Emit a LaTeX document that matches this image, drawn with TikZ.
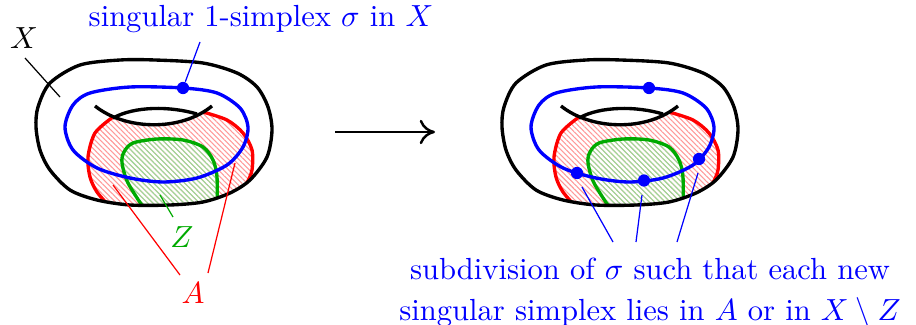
\documentclass[tikz,border=0pt]{standalone}
\usepackage{tikz}
\usetikzlibrary{patterns.meta,arrows.meta}
\definecolor{tsBlue}{RGB}{0,0,255}
\definecolor{tsRed}{RGB}{255,0,0}
\definecolor{tsGreen}{RGB}{0,170,0}
\tikzset{
    torusline/.style={line width=1.1pt, black},
    sigmaline/.style={line width=1.1pt, tsBlue},
    boundary/.style={line width=1.1pt, color=#1},
    hatchfill/.style={pattern={Lines[angle=-45,distance=1.2pt,line width=0.35pt]}, pattern color=#1},
    leaderline/.style={line width=0.4pt, color=#1},
    sdot/.style={circle, fill=tsBlue, inner sep=0pt, minimum size=4pt},
    flow/.style={-{To[length=5pt,width=8pt]}, thick},
    label/.style={inner sep=0pt, anchor=base}
}

\begin{document}
\begin{tikzpicture}[x=0.0115cm, y=-0.0115cm]
  \useasboundingbox (0,0) rectangle (916,325);

  % the two tori with A and Z
  \foreach \sx in {0,466}{
    \begin{scope}[shift={(\sx,0)}]
      \begin{scope}
        \clip plot[smooth cycle] coordinates {(155,60) (203,63) (237,73) (257,87) (268,107) (272,130) (267,157) (250,180) (230,193) (203,202) (170,205) (130,205) (97,200) (70,190) (50,170) (40,150) (36,127) (38,107) (50,83) (80,65) (120,60)};
        % A
        \fill[hatchfill=tsRed!40] plot[smooth] coordinates {(113,117) (95,133) (88,157) (90,177) (97,192) (110,207)}
          -- (110,215) -- (250,215)
          -- plot[smooth] coordinates {(240,195) (247,183) (252,170) (252,150) (243,133) (227,120) (203,112)}
          .. controls (180,125) and (140,128) .. (113,117) -- cycle;
        \draw[boundary=tsRed] plot[smooth] coordinates {(113,117) (95,133) (88,157) (90,177) (97,192) (110,207)};
        \draw[boundary=tsRed] plot[smooth] coordinates {(203,112) (227,120) (243,133) (252,150) (252,170) (247,183) (240,195)};
        % Z
        \fill[hatchfill=tsGreen!40] plot[smooth] coordinates {(145,210) (128,183) (122,163) (124,152) (133,143) (157,139) (183,140) (203,147) (213,160) (217,177) (217,210)} -- cycle;
        \draw[boundary=tsGreen] plot[smooth] coordinates {(145,210) (128,183) (122,163) (124,152) (133,143) (157,139) (183,140) (203,147) (213,160) (217,177) (217,210)};
      \end{scope}
      % X
      \draw[torusline] plot[smooth cycle] coordinates {(155,60) (203,63) (237,73) (257,87) (268,107) (272,130) (267,157) (250,180) (230,193) (203,202) (170,205) (130,205) (97,200) (70,190) (50,170) (40,150) (36,127) (38,107) (50,83) (80,65) (120,60)};
      \draw[torusline] (95,106) .. controls (125,130) and (180,132) .. (212,106);
      \draw[torusline] (113,118) .. controls (135,106) and (170,106) .. (197,114);
      % sigma
      \draw[sigmaline] plot[smooth cycle] coordinates {(183,88) (217,93) (240,108) (248,127) (243,147) (227,165) (197,178) (163,182) (130,178) (97,168) (73,150) (65,127) (73,105) (90,93) (130,87)};
    \end{scope}
  }

  % points of sigma
  \node[sdot] (sig) at (183,88) {};
  \node[sdot] (sub0) at (649,88) {};
  \node[sdot] (sub1) at (577,173) {};
  \node[sdot] (sub2) at (644,180.5) {};
  \node[sdot] (sub3) at (699,159) {};

  % labels
  \node[label, text=tsBlue] (lblSigma) at (261,26.5) {singular 1-simplex $\sigma$ in $X$};
  \node[label] (lblX) at (24,48) {$X$};
  \node[label, text=tsGreen] (lblZ) at (182,247) {$Z$};
  \node[label, text=tsRed] (lblA) at (193,303) {$A$};
  \node[text=tsBlue, align=center, inner sep=0pt] (lblSub) at (650,293)
    {subdivision of $\sigma$ such that each new\\[1.4pt]
     singular simplex lies in $A$ or in $X\setminus Z$};

  % leader lines
  \coordinate (xtail) at (25,58);
  \coordinate (xpt) at (60,97);
  \coordinate (sigtail) at (200,42);
  \coordinate (zpt) at (160,195);
  \coordinate (ztail) at (173,217);
  \coordinate (apt1) at (113,185);
  \coordinate (atail1) at (180,275);
  \coordinate (apt2) at (235,163);
  \coordinate (atail2) at (208,273);
  \draw[leaderline=black] (xtail) -- (xpt);
  \draw[leaderline=tsBlue] (sig) -- (sigtail);
  \draw[leaderline=tsGreen] (zpt) -- (ztail);
  \draw[leaderline=tsRed] (apt1) -- (atail1);
  \draw[leaderline=tsRed] (apt2) -- (atail2);
  \coordinate (spt1) at (582,187);
  \coordinate (spt2) at (642,195);
  \coordinate (spt3) at (698,173);
  \coordinate (stail1) at (613,242);
  \coordinate (stail2) at (636,242);
  \coordinate (stail3) at (677,242);
  \foreach \i in {1,2,3}
    \draw[leaderline=tsBlue] (spt\i) -- (stail\i);

  % arrow
  \coordinate (arrs) at (335,132);
  \coordinate (arre) at (435,132);
  \draw[flow] (arrs) -- (arre);
\end{tikzpicture}
\end{document}
